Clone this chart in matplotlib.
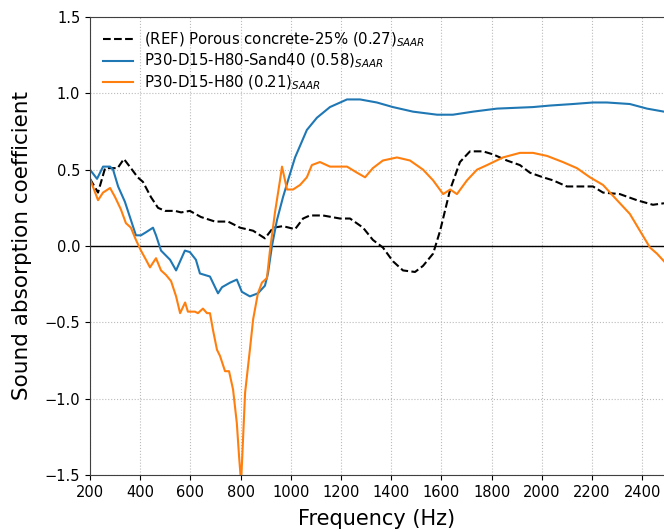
import matplotlib
matplotlib.use("Agg")
import matplotlib.pyplot as plt

ref_f = [200, 232, 260, 310, 335, 363, 390, 411, 443, 471, 499, 539, 563, 598, 642, 698, 750, 798,
         850, 897, 930, 969, 1017, 1049, 1076, 1128, 1196, 1236, 1288, 1327, 1367, 1407, 1447, 1495,
         1527, 1567, 1595, 1635, 1674, 1714, 1766, 1806, 1861, 1913, 1953, 2005, 2045, 2100, 2152,
         2204, 2244, 2311, 2379, 2443, 2487]
ref_v = [0.44, 0.35, 0.51, 0.51, 0.57, 0.51, 0.45, 0.42, 0.32, 0.25, 0.23, 0.23, 0.22, 0.23, 0.19,
         0.16, 0.16, 0.12, 0.10, 0.05, 0.12, 0.13, 0.11, 0.18, 0.20, 0.20, 0.18, 0.18, 0.12, 0.04,
         -0.01, -0.10, -0.16, -0.17, -0.13, -0.05, 0.10, 0.37, 0.55, 0.62, 0.62, 0.60, 0.56, 0.53,
         0.48, 0.45, 0.43, 0.39, 0.39, 0.39, 0.35, 0.34, 0.30, 0.27, 0.28]

sand_f = [200, 228, 252, 280, 292, 312, 339, 363, 383, 403, 423, 451, 463, 483, 519, 543, 578, 598,
          622, 638, 678, 710, 726, 758, 785, 805, 837, 869, 897, 909, 925, 945, 969, 989, 1017,
          1064, 1104, 1156, 1224, 1276, 1343, 1407, 1487, 1583, 1646, 1726, 1822, 1965, 2033, 2124,
          2204, 2260, 2351, 2419, 2487]
sand_v = [0.50, 0.44, 0.52, 0.52, 0.50, 0.39, 0.29, 0.17, 0.07, 0.07, 0.09, 0.12, 0.07, -0.03,
          -0.09, -0.16, -0.03, -0.04, -0.09, -0.18, -0.20, -0.31, -0.27, -0.24, -0.22, -0.30,
          -0.33, -0.31, -0.26, -0.18, 0.00, 0.17, 0.32, 0.43, 0.58, 0.76, 0.84, 0.91, 0.96, 0.96,
          0.94, 0.91, 0.88, 0.86, 0.86, 0.88, 0.90, 0.91, 0.92, 0.93, 0.94, 0.94, 0.93, 0.90, 0.88]

h80_f = [200, 232, 252, 280, 300, 323, 343, 363, 383, 403, 423, 439, 463, 483, 503, 523, 543, 559,
         579, 590, 618, 630, 650, 666, 678, 690, 706, 718, 738, 754, 770, 785, 794, 802, 818, 837,
         850, 869, 885, 905, 917, 937, 957, 965, 985, 1009, 1037, 1064, 1084, 1116, 1156, 1184,
         1224, 1264, 1296, 1327, 1367, 1423, 1475, 1527, 1567, 1607, 1635, 1662, 1702, 1742, 1782,
         1845, 1913, 1965, 2021, 2084, 2140, 2192, 2244, 2300, 2351, 2391, 2431, 2459, 2487]
h80_v = [0.44, 0.30, 0.35, 0.38, 0.32, 0.24, 0.15, 0.12, 0.04, -0.03, -0.09, -0.14, -0.08, -0.16,
         -0.19, -0.23, -0.33, -0.44, -0.37, -0.43, -0.43, -0.44, -0.41, -0.44, -0.44, -0.55, -0.68,
         -0.72, -0.82, -0.82, -0.94, -1.16, -1.38, -1.55, -0.96, -0.68, -0.48, -0.31, -0.24, -0.21,
         -0.03, 0.22, 0.43, 0.52, 0.37, 0.37, 0.40, 0.45, 0.53, 0.55, 0.52, 0.52, 0.52, 0.48, 0.45,
         0.51, 0.56, 0.58, 0.56, 0.50, 0.43, 0.34, 0.37, 0.34, 0.43, 0.50, 0.53, 0.58, 0.61, 0.61,
         0.59, 0.55, 0.51, 0.45, 0.40, 0.30, 0.21, 0.10, -0.01, -0.05, -0.10]

labels = [r'(REF) Porous concrete-25% (0.27)$_{SAAR}$',
          r'P30-D15-H80-Sand40 (0.58)$_{SAAR}$',
          r'P30-D15-H80 (0.21)$_{SAAR}$']
x_ticks = [200, 400, 600, 800, 1000, 1200, 1400, 1600, 1800, 2000, 2200, 2400]
y_ticks = [-1.5, -1.0, -0.5, 0.0, 0.5, 1.0, 1.5]

fig = plt.figure(figsize=(6.64, 5.32), dpi=100)
ax = fig.add_axes([90 / 664, 1 - 475 / 532, 1 - 90 / 664, (475 - 17) / 532])

ax.plot(ref_f, ref_v, color='black', linestyle='--', lw=1.5, label=labels[0])
ax.plot(sand_f, sand_v, color='#1f77b4', lw=1.5, label=labels[1])
ax.plot(h80_f, h80_v, color='#ff7f0e', lw=1.5, label=labels[2])
ax.axhline(0, color='black', lw=1.0, zorder=1)

ax.set_xlim(200, 2487)
ax.set_ylim(-1.5, 1.5)
ax.set_xticks(x_ticks)
ax.set_yticks(y_ticks)
ax.tick_params(labelsize=10.5)
ax.grid(True, linestyle=':', color='#bbbbbb', lw=0.8)
ax.set_axisbelow(True)
ax.spines['right'].set_visible(False)
for s in ['left', 'top', 'bottom']:
    ax.spines[s].set_color('0.25')

ax.set_xlabel('Frequency (Hz)', fontsize=15, labelpad=7)
ax.set_ylabel('Sound absorption coefficient', fontsize=15.5, labelpad=9)
ax.legend(loc='upper left', frameon=False, fontsize=10.7, handlelength=2.0,
          handletextpad=0.7, labelspacing=0.22, borderaxespad=0.5)

fig.savefig('out.png', dpi=100)
